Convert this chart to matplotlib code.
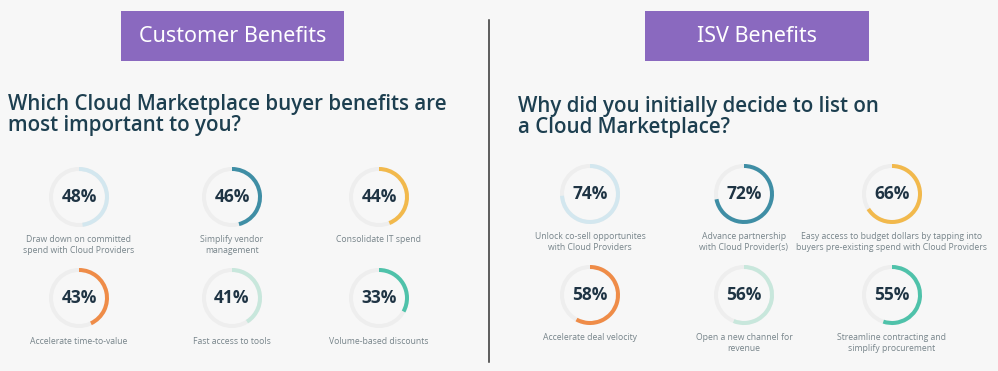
import matplotlib.pyplot as plt
from matplotlib.patches import Wedge, Rectangle

plt.rcParams['font.family'] = 'Open Sans'

customer_values = [48, 46, 44, 43, 41, 33]
customer_labels = ["Draw down on committed\nspend with Cloud Providers", "Simplify vendor\nmanagement",
                   "Consolidate IT spend", "Accelerate time-to-value", "Fast access to tools",
                   "Volume-based discounts"]
isv_values = [74, 72, 66, 58, 56, 55]
isv_labels = ["Unlock co-sell opportunites\nwith Cloud Providers", "Advance partnership\nwith Cloud Provider(s)",
              "Easy access to budget dollars by tapping into\nbuyers pre-existing spend with Cloud Providers",
              "Accelerate deal velocity", "Open a new channel for\nrevenue",
              "Streamline contracting and\nsimplify procurement"]
ring_colors = ["#d3e7ef", "#3f8ea5", "#f2b94c", "#ef8c48", "#c8e7dc", "#4fc2aa"]

bg = "#f7f7f7"
fig = plt.figure(figsize=(9.98, 3.71), dpi=100, facecolor=bg)
ax = fig.add_axes([0, 0, 1, 1])
ax.set_xlim(0, 998)
ax.set_ylim(371, 0)
ax.set_aspect('equal')
ax.axis('off')


def donut(cx, cy, val, color, label, label_y):
    ax.add_patch(Wedge((cx, cy), 30, 0, 360, width=4, facecolor="#eeeeee", edgecolor='none'))
    ax.add_patch(Wedge((cx, cy), 30, -90, -90 + 3.6 * val, width=4, facecolor=color, edgecolor='none'))
    ax.text(cx, cy, f"{val}%", ha='center', va='center', fontsize=12.5, fontweight='bold',
            color="#1f3444")
    ax.text(cx, label_y, label, ha='center', va='top', fontsize=6.2, color="#77848a",
            linespacing=1.35)


# headers
for x0, w, txt in [(121, 223, "Customer Benefits"), (645, 224, "ISV Benefits")]:
    ax.add_patch(Rectangle((x0, 11), w, 50, facecolor="#8a69bf", edgecolor='none'))
    ax.text(x0 + w / 2, 37, txt, ha='center', va='center', fontsize=15.5, color='white',
            family='Noto Sans', fontweight='light')

# divider
ax.plot([489, 489], [20, 362], color="#333333", lw=1.1)

# titles
ax.text(8, 115, "Which Cloud Marketplace buyer benefits are\nmost important to you?", ha='left',
        va='center', fontsize=14.8, color="#1d3f50", fontweight='semibold', linespacing=0.96)
ax.text(518, 117, "Why did you initially decide to list on\na Cloud Marketplace?", ha='left',
        va='center', fontsize=14.8, color="#1d3f50", fontweight='semibold', linespacing=0.96)

left_x = [79, 232, 379]
right_x = [590, 744, 892]
for i in range(6):
    r, c = divmod(i, 3)
    donut(left_x[c], [197, 298][r], customer_values[i], ring_colors[i], customer_labels[i], [235, 337][r])
    donut(right_x[c], [194, 295][r], isv_values[i], ring_colors[i], isv_labels[i], [232, 333][r])

fig.savefig("out.png", dpi=100, facecolor=bg)
